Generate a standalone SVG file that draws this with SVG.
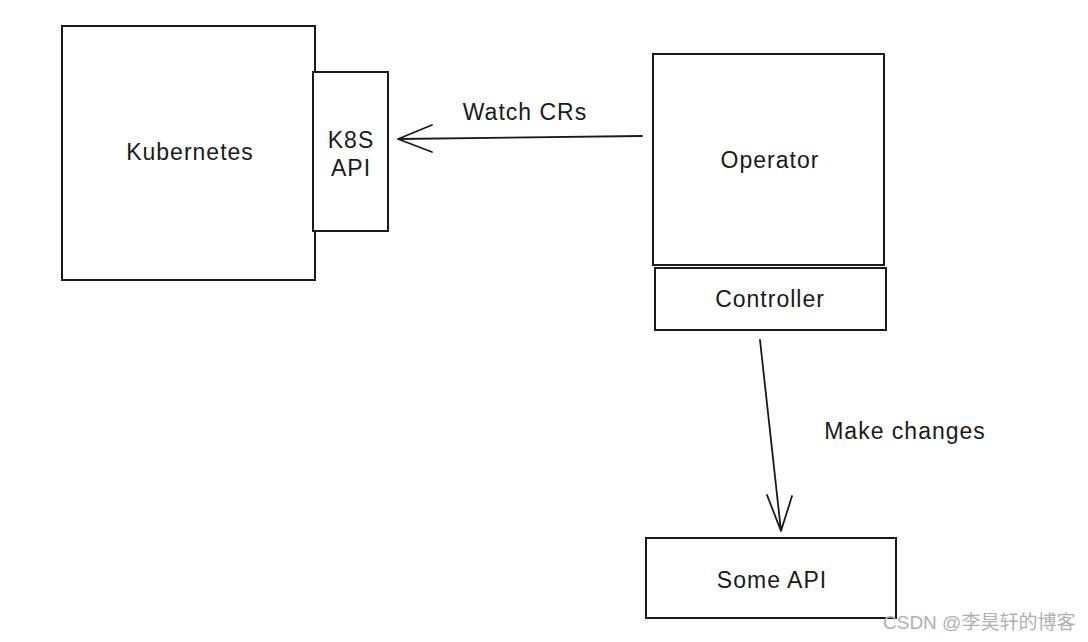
<svg xmlns="http://www.w3.org/2000/svg" width="1088" height="642" viewBox="0 0 1088 642">
<style>
.box{fill:#fff;stroke:#1a1a1a;stroke-width:2}
.lbl{font-family:"Liberation Sans",Arial,sans-serif;font-size:23px;letter-spacing:1px;fill:#1a1a1a;text-anchor:middle}
.edge{fill:none;stroke:#1a1a1a;stroke-width:1.8;stroke-linecap:round;stroke-linejoin:round}
.wm{font-family:"Liberation Sans","Noto Sans CJK SC",sans-serif;font-size:19px;fill:#b0b0b0}
</style>
<rect width="1088" height="642" fill="#fff"/>
<g id="kubernetes">
<rect class="box" x="62" y="26" width="253" height="254"/>
<text class="lbl" x="190" y="160">Kubernetes</text>
</g>
<g id="k8s-api">
<rect class="box" x="313" y="72" width="75" height="159"/>
<text class="lbl" x="351" y="148">K8S</text>
<text class="lbl" x="351" y="176">API</text>
</g>
<g id="operator">
<rect class="box" x="653" y="54" width="231" height="211"/>
<text class="lbl" x="770" y="168">Operator</text>
</g>
<g id="controller">
<rect class="box" x="655" y="268" width="231" height="62"/>
<text class="lbl" x="770" y="307">Controller</text>
</g>
<g id="some-api">
<rect class="box" x="646" y="538" width="250" height="80"/>
<text class="lbl" x="772" y="588">Some API</text>
</g>
<g id="connectors">
<path class="edge" d="M642 136 L398 139 M432 125 L398 139 L432 152"/>
<path class="edge" d="M760 340 L781 531 M767 495 L781 531 L792 496"/>
<text class="lbl" x="525" y="120">Watch CRs</text>
<text class="lbl" x="905" y="439">Make changes</text>
</g>
<text class="wm" x="883" y="629">CSDN @李昊轩的博客</text>
</svg>
